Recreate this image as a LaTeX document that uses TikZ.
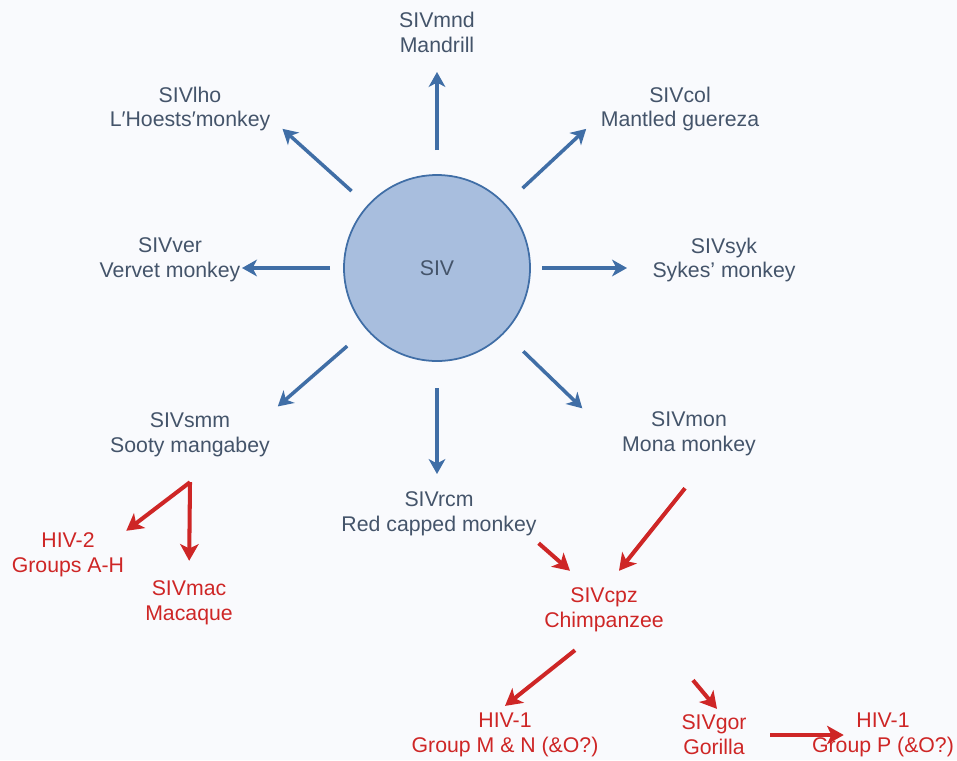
\documentclass[tikz,border=0pt]{standalone}
\usepackage{fontspec}
\setmainfont{Liberation Sans}
\usetikzlibrary{arrows.meta,calc}

\definecolor{sivtext}{RGB}{68,84,106}
\definecolor{sivblue}{RGB}{64,110,166}
\definecolor{sivfill}{RGB}{168,190,222}
\definecolor{hivred}{RGB}{206,38,38}
\definecolor{paper}{RGB}{249,250,253}

\tikzset{
  host/.style={align=center, text=sivtext, inner sep=1pt,
    font=\fontsize{12.1}{14.2}\selectfont},
  human/.style={host, text=hivred},
  sivarrow/.style={draw=sivblue, line width=2pt,
    -{Stealth[length=8.5pt,width=9.5pt,inset=2.5pt]}},
  hivarrow/.style={draw=hivred, line width=2.3pt,
    -{Stealth[length=9.5pt,width=10.5pt,inset=2.5pt]}}
}

\begin{document}
\begin{tikzpicture}
    \fill[paper] (0,0) rectangle (19.14,-15.2);
    \useasboundingbox (0,0) rectangle (19.14,-15.2);

    % centre
    \node[circle, minimum size=3.72cm, fill=sivfill, draw=sivblue, line width=1pt,
          text=sivtext, font=\fontsize{12.1}{14.2}\selectfont] (siv) at (8.74,-5.36) {SIV};

    %=== SIV hosts ===
    \node[host] (mnd) at (8.74,-0.64) {SIVmnd\\Mandrill};
    \node[host] (lho) at (3.8,-2.18) {SIVlho\\L′Hoests′monkey};
    \node[host] (col) at (13.6,-2.18) {SIVcol\\Mantled guereza};
    \node[host] (ver) at (3.4,-5.2) {SIVver\\Vervet monkey};
    \node[host] (syk) at (14.48,-5.2) {SIVsyk\\Sykes’ monkey};
    \node[host] (smm) at (3.8,-8.7) {SIVsmm\\Sooty mangabey};
    \node[host] (rcm) at (8.78,-10.28) {SIVrcm\\Red capped monkey};
    \node[host] (mon) at (13.78,-8.68) {SIVmon\\Mona monkey};

    %=== red ones ===
    \node[human] (hiv2) at (1.36,-11.1) {HIV-2\\Groups A-H};
    \node[human] (mac) at (3.78,-12.06) {SIVmac\\Macaque};
    \node[human] (cpz) at (12.08,-12.2) {SIVcpz\\Chimpanzee};
    \node[human] (hiv1mn) at (10.1,-14.7) {HIV-1\\Group M \& N (\&O?)};
    \node[human] (gor) at (14.28,-14.7) {SIVgor\\Gorilla};
    \node[human, inner sep=0pt] (hiv1p) at (17.66,-14.7) {HIV-1\\Group P (\&O?)};

    % star of arrows
    \foreach \a/\ra/\rb in {90/2.36/3.92, 138/2.30/4.16, 43/2.34/4.08, 180/2.14/3.90,
                            0/2.10/3.80, 221/2.38/4.22, 270/2.40/4.12, 316/2.40/4.04}
        \draw[sivarrow] ($(siv.center)+(\a:\ra)$) -- ($(siv.center)+(\a:\rb)$);

    % to human and macaque
    \coordinate (smm-fork) at ([yshift=-0.46cm]smm.south);
    \draw[hivarrow] (smm-fork) -- (hiv2.north east);
    \draw[hivarrow, shorten >=0.36cm] (smm-fork) -- (mac.north);

    \draw[hivarrow] ([yshift=-0.1cm]rcm.south east) -- ([shift={(-0.68,0.3)}]cpz.north);
    \draw[hivarrow] ([shift={(-0.08,-0.6)}]mon.south) -- ([shift={(0.3,0.3)}]cpz.north);

    \draw[hivarrow] ([shift={(-0.58,-0.32)}]cpz.south) -- ([yshift=0.1cm]hiv1mn.north);
    \draw[hivarrow] ([shift={(1.78,-0.92)}]cpz.south) -- ([shift={(0.06,0.08)}]gor.north);
    \draw[hivarrow, shorten <=0.43cm] (gor.east) -- ([xshift=0.64cm]hiv1p.west);
\end{tikzpicture}
\end{document}
